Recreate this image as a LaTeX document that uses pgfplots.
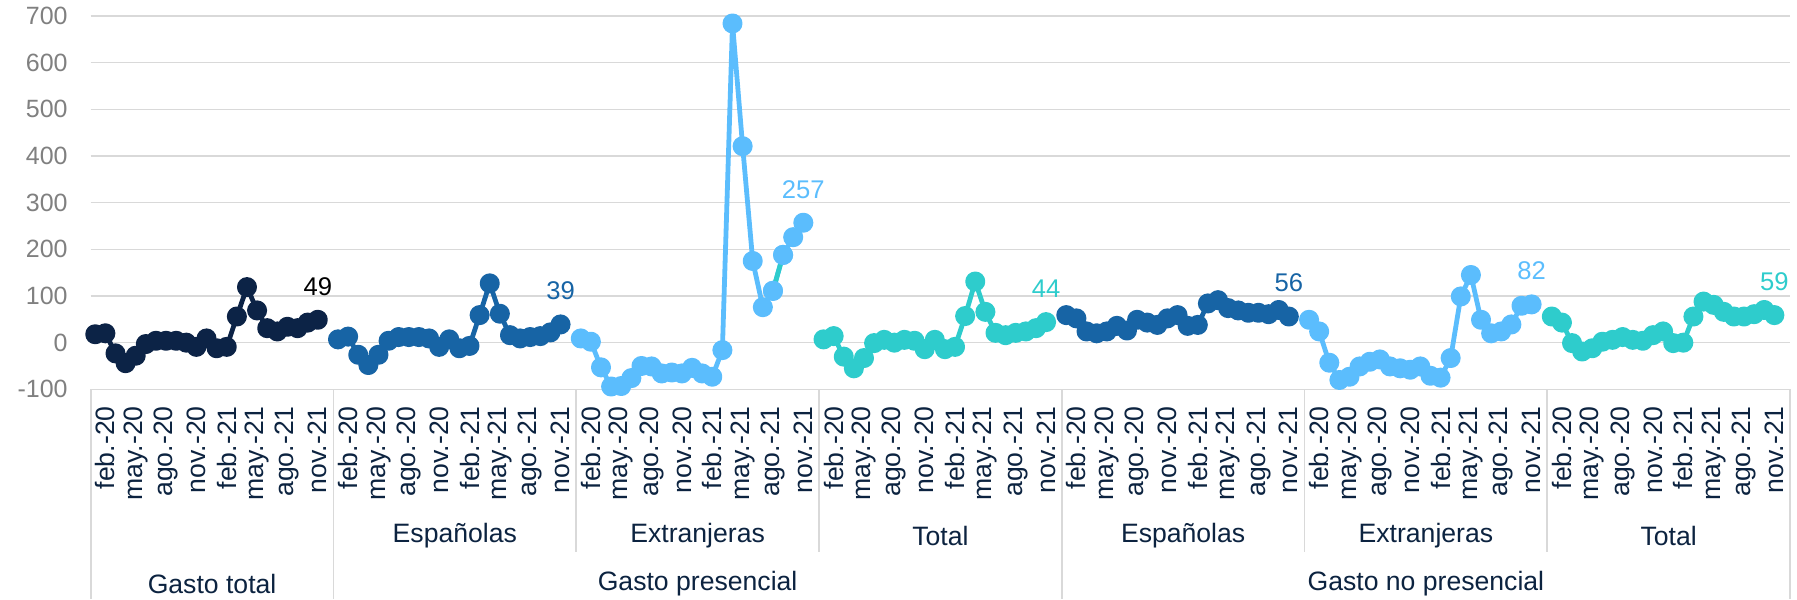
\documentclass[border=0pt]{standalone}
\usepackage{pgfplots}
\pgfplotsset{compat=1.18}
\usepackage{pgfplotstable}
\usepackage{fontspec}
\setmainfont{Liberation Sans}
\definecolor{cNavy}{RGB}{12,35,70}
\definecolor{cBlue}{RGB}{23,100,165}
\definecolor{cLight}{RGB}{91,189,253}
\definecolor{cTeal}{RGB}{46,204,204}
\definecolor{cGrid}{RGB}{217,217,217}
\definecolor{cTick}{RGB}{128,128,128}
\definecolor{cCat}{RGB}{12,35,64}

% Gasto total
\pgfplotstableread{
y
18
20
-23
-44
-28
-3
4
4
4
0
-9
9
-12
-9
56
119
69
31
24
34
31
43
49
}\gtotal
% Gasto presencial - Espanolas
\pgfplotstableread{
y
7
13
-26
-48
-26
4
12
12
12
9
-9
7
-12
-7
59
127
62
16
9
12
14
22
39
}\pesp
% Gasto presencial - Extranjeras
\pgfplotstableread{
y
9
2
-53
-94
-93
-76
-50
-51
-66
-64
-66
-54
-66
-73
-16
684
421
175
76
111
188
226
257
}\pext
% Gasto presencial - Total
\pgfplotstableread{
y
7
14
-30
-55
-33
-1
6
0
6
4
-14
6
-14
-9
57
131
66
21
16
21
24
31
44
}\ptot
% Gasto no presencial - Espanolas
\pgfplotstableread{
y
59
52
24
20
24
36
26
49
43
38
52
59
36
38
84
91
74
69
64
64
61
70
56
}\nesp
% Gasto no presencial - Extranjeras
\pgfplotstableread{
y
49
24
-43
-80
-73
-51
-41
-36
-51
-55
-58
-51
-71
-75
-33
99
145
49
20
24
39
79
82
}\next
% Gasto no presencial - Total
\pgfplotstableread{
y
56
43
-1
-19
-12
2
6
12
6
4
16
24
-1
0
56
88
81
66
56
56
61
70
59
}\ntot

\pgfplotsset{
  ser/.style={line width=2.4pt, line join=round, color=#1, mark=*, mark size=3.8pt,
    mark options={solid, fill=#1, draw=none}},
}

\begin{document}
\begin{tikzpicture}
\begin{axis}[
  scale only axis,
  width=849.65pt, height=186.65pt,
  xmin=0, xmax=168, ymin=-100, ymax=700,
  clip=false,
  axis line style={draw=none},
  major tick length=0pt,
  ytick={-100,0,100,200,300,400,500,600,700},
  yticklabels={-100,0,100,200,300,400,500,600,700},
  yticklabel style={text=cTick, font=\fontsize{12.5}{14}\selectfont},
  yticklabel shift=8pt,
  ymajorgrids, grid style={draw=cGrid, line width=0.8pt},
  xtick={1.45,4.45,...,166.6},
  xticklabel={\pgfmathtruncatemacro\k{mod(\ticknum,8)}\ifcase\k feb.-20\or may.-20\or ago.-20\or nov.-20\or feb.-21\or may.-21\or ago.-21\or nov.-21\fi},
  xticklabel style={rotate=90, anchor=east, text=cCat, font=\fontsize{13.3}{15}\selectfont},
  xticklabel shift=5pt,
]
\addplot[ser=cNavy] table[x expr=\coordindex+0.45, y=y] {\gtotal};
\addplot[ser=cBlue] table[x expr=\coordindex+24.45, y=y] {\pesp};
\addplot[ser=cLight] table[x expr=\coordindex+48.45, y=y] {\pext};
\addplot[cTeal, line width=2.4pt, no marks] coordinates {(67.45,111) (68.45,188)};
\addplot[ser=cLight, only marks] coordinates {(67.45,111) (68.45,188)};
\addplot[ser=cTeal] table[x expr=\coordindex+72.45, y=y] {\ptot};
\addplot[ser=cBlue] table[x expr=\coordindex+96.45, y=y] {\nesp};
\addplot[ser=cLight] table[x expr=\coordindex+120.45, y=y] {\next};
\addplot[ser=cTeal] table[x expr=\coordindex+144.45, y=y] {\ntot};

% value labels
\begin{scope}[font=\fontsize{12.8}{15}\selectfont]
\node[text=black, yshift=16.75pt] at (axis cs:22.45,49) {49};
\node[text=cBlue, yshift=16.75pt] at (axis cs:46.45,39) {39};
\node[text=cLight, yshift=16.75pt] at (axis cs:70.45,257) {257};
\node[text=cTeal, yshift=16.75pt] at (axis cs:94.45,44) {44};
\node[text=cBlue, yshift=16.75pt] at (axis cs:118.45,56) {56};
\node[text=cLight, yshift=16.75pt] at (axis cs:142.45,82) {82};
\node[text=cTeal, yshift=16.75pt] at (axis cs:166.45,59) {59};
\end{scope}

% category separators
\draw[cGrid, line width=0.8pt] (axis cs:0,-100) -- (axis cs:0,-549.4);
\draw[cGrid, line width=0.8pt] (axis cs:24,-100) -- (axis cs:24,-549.4);
\draw[cGrid, line width=0.8pt] (axis cs:96,-100) -- (axis cs:96,-549.4);
\draw[cGrid, line width=0.8pt] (axis cs:168,-100) -- (axis cs:168,-549.4);
\draw[cGrid, line width=0.8pt] (axis cs:48,-100) -- (axis cs:48,-448.7);
\draw[cGrid, line width=0.8pt] (axis cs:72,-100) -- (axis cs:72,-448.7);
\draw[cGrid, line width=0.8pt] (axis cs:120,-100) -- (axis cs:120,-448.7);
\draw[cGrid, line width=0.8pt] (axis cs:144,-100) -- (axis cs:144,-448.7);

% level 2 and 3 labels
\begin{scope}[text=cCat, font=\fontsize{13.3}{15}\selectfont]
\node at (axis cs:36,-413.7) {Españolas};
\node at (axis cs:60,-413.7) {Extranjeras};
\node at (axis cs:84,-413.7) {Total};
\node at (axis cs:108,-413.7) {Españolas};
\node at (axis cs:132,-413.7) {Extranjeras};
\node at (axis cs:156,-413.7) {Total};
\node at (axis cs:12,-517.2) {Gasto total};
\node at (axis cs:60,-517.2) {Gasto presencial};
\node at (axis cs:132,-517.2) {Gasto no presencial};
\end{scope}

\coordinate (bbsw) at (axis cs:-8.967,-549.4);
\coordinate (bbne) at (axis cs:168.69,734.3);
\end{axis}
\pgfresetboundingbox
\useasboundingbox (bbsw) rectangle (bbne);
\end{tikzpicture}
\end{document}
